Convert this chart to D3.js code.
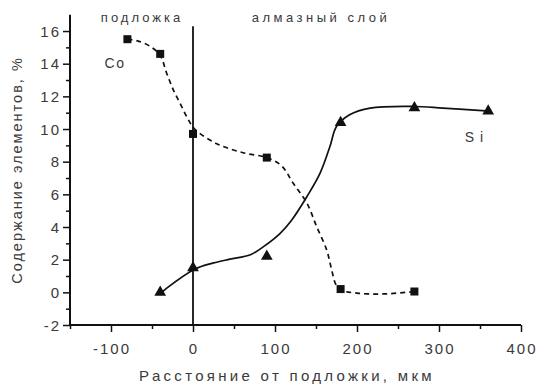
<!DOCTYPE html>
<html>
<head>
<meta charset="utf-8">
<script src="https://cdn.jsdelivr.net/npm/d3@7"></script>
<style>
  body { margin: 0; background: #fff; }
  text { font-family: Arial, "Liberation Sans", sans-serif; }
</style>
</head>
<body>
<div class="vis"></div>
<script>
// markers
const coX = [-80, -40, 0, 90, 180, 270];
const coY = [15.5, 14.6, 9.7, 8.25, 0.2, 0.05];
const siX = [-40, 0, 90, 180, 270, 360];
const siY = [0, 1.5, 2.2, 10.4, 11.3, 11.1];
// hand-drawn trend curves
const coFitX = [-80, -68, -52, -40, -32, -24, -16, -6, 2, 29, 61, 90, 108, 122, 139, 151, 163, 169, 174, 180, 200, 232, 270];
const coFitY = [15.5, 15.4, 15.05, 14.5, 13.4, 12.4, 11.6, 10.6, 10.0, 9.1, 8.55, 8.25, 7.75, 6.7, 5.45, 4.0, 2.6, 1.4, 0.5, 0.15, -0.05, -0.1, 0.05];
const siFitX = [-38, -32, 2, 25, 45, 70, 86, 106, 120, 139, 155, 167, 175, 191, 216, 269, 305, 362];
const siFitY = [0, 0.26, 1.42, 1.8, 2.03, 2.3, 2.8, 3.6, 4.4, 5.87, 7.3, 8.93, 10.15, 10.87, 11.28, 11.38, 11.28, 11.1];
const xTicks = [-100, 0, 100, 200, 300, 400];
const yTicks = [-2, 0, 2, 4, 6, 8, 10, 12, 14, 16];

const W = 540, H = 387;
const svg = d3.select('.vis').append('svg').attr('width', W).attr('height', H);

const x = d3.scaleLinear().domain([-150, 400]).range([70, 521]);
const y = d3.scaleLinear().domain([-2, 17]).range([325, 14.7]);
const ink = '#111';
const grey = '#3a3a3a';

// x axis
const xAxis = svg.append('g').attr('transform', 'translate(0,' + y(-2) + ')');
xAxis.call(d3.axisBottom(x).tickValues(d3.range(-150, 401, 50)).tickSize(4).tickFormat(''));
xAxis.call(g => g.selectAll('.tick').filter(d => xTicks.includes(d)).select('line').attr('y2', 7));
xAxis.append('g').selectAll('text').data(xTicks).join('text')
    .attr('x', d => x(d) + 1).attr('y', 29)
    .attr('text-anchor', 'middle')
    .attr('font-size', 15).attr('letter-spacing', 2).attr('fill', grey)
    .text(d => d);

// y axis
const yAxis = svg.append('g').attr('transform', 'translate(' + x(-150) + ',0)');
yAxis.call(d3.axisLeft(y).tickValues(d3.range(-2, 17, 1)).tickSize(4).tickFormat(''));
yAxis.call(g => g.selectAll('.tick').filter(d => yTicks.includes(d)).select('line').attr('x2', -7));
yAxis.append('g').selectAll('text').data(yTicks).join('text')
    .attr('x', -9).attr('y', d => y(d) + 5.5)
    .attr('text-anchor', 'end')
    .attr('font-size', 15).attr('letter-spacing', 2).attr('fill', grey)
    .text(d => d);

svg.selectAll('.domain').attr('stroke', ink).attr('stroke-width', 2);
svg.selectAll('.tick line').attr('stroke', ink).attr('stroke-width', 1.5);
// cut the outer tick end caps
xAxis.select('.domain').attr('d', 'M' + x(-150) + ',0H' + x(400));
yAxis.select('.domain').attr('d', 'M0,' + y(-2) + 'V' + y(17));

// boundary substrate / diamond layer
svg.append('line')
    .attr('x1', x(0)).attr('x2', x(0))
    .attr('y1', y(16.3)).attr('y2', y(-2))
    .attr('stroke', ink).attr('stroke-width', 1.8);

// curves
const line = d3.line().x(d => x(d[0])).y(d => y(d[1])).curve(d3.curveCatmullRom.alpha(0.5));
svg.append('path')
    .attr('d', line(d3.zip(coFitX, coFitY)))
    .attr('fill', 'none').attr('stroke', ink).attr('stroke-width', 1.7)
    .attr('stroke-dasharray', '5,4');
svg.append('path')
    .attr('d', line(d3.zip(siFitX, siFitY)))
    .attr('fill', 'none').attr('stroke', ink).attr('stroke-width', 1.7);

// markers
svg.append('g').selectAll('rect').data(d3.zip(coX, coY)).join('rect')
    .attr('x', d => x(d[0]) - 4).attr('y', d => y(d[1]) - 4)
    .attr('width', 8).attr('height', 8).attr('fill', ink);
const tri = d3.symbol().type(d3.symbolTriangle).size(60);
svg.append('g').selectAll('path').data(d3.zip(siX, siY)).join('path')
    .attr('transform', d => 'translate(' + x(d[0]) + ',' + y(d[1]) + ')')
    .attr('d', tri).attr('fill', ink);

// labels
const label = (t, px, py, size, anchor, spacing) => svg.append('text')
    .attr('x', px).attr('y', py).attr('font-size', size)
    .attr('text-anchor', anchor || 'middle')
    .attr('letter-spacing', spacing || 0)
    .attr('fill', grey).text(t);

label('подложка', 142, 22, 13, 'middle', 3);
label('алмазный слой', 321, 22, 13, 'middle', 3.5);
label('Co', 115, 68, 14, 'middle', 1.5);
label('Si', 477, 142, 14, 'middle', 6);
label('Расстояние от подложки, мкм', 287, 381, 15, 'middle', 3.3);
svg.append('text')
    .attr('transform', 'translate(22,170) rotate(-90)')
    .attr('text-anchor', 'middle').attr('font-size', 14.5)
    .attr('letter-spacing', 2).attr('fill', grey)
    .text('Содержание элементов, %');
</script>
</body>
</html>
